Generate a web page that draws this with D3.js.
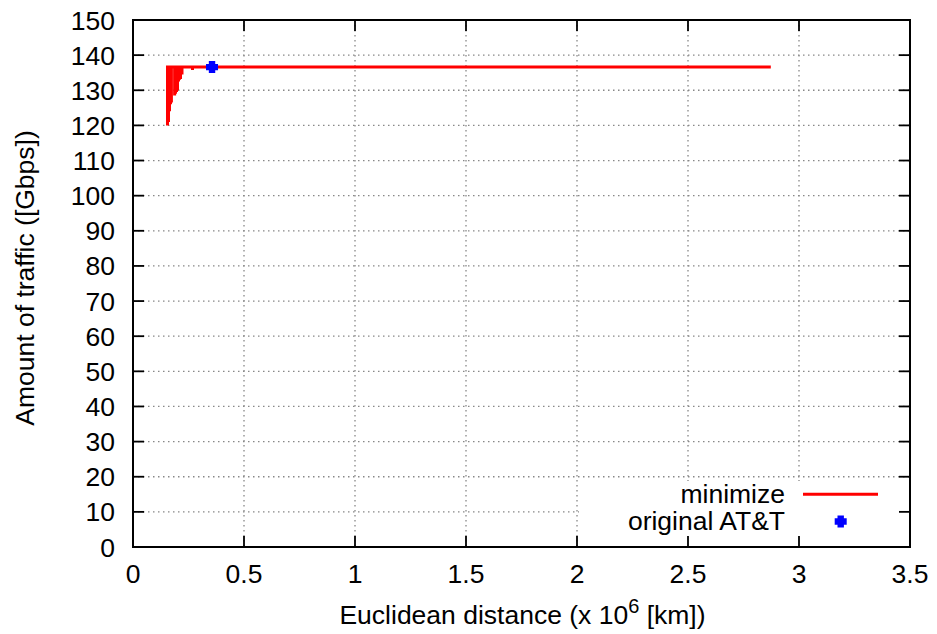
<!DOCTYPE html>
<html>
<head>
<meta charset="utf-8">
<script src="https://cdn.jsdelivr.net/npm/d3@7"></script>
<style>
  html, body { margin: 0; padding: 0; background: #fff; }
  svg { display: block; font-family: "Liberation Sans", Arial, Helvetica, sans-serif; }
</style>
</head>
<body>
<svg id="chart" width="937" height="634"></svg>
<script>
// Axis ticks
const xTicks = [0, 0.5, 1, 1.5, 2, 2.5, 3, 3.5];
const xTickLabels = ["0", "0.5", "1", "1.5", "2", "2.5", "3", "3.5"];
const yTicks = [0, 10, 20, 30, 40, 50, 60, 70, 80, 90, 100, 110, 120, 130, 140, 150];
const yTickLabels = yTicks.map(String);

// "minimize" series: a plateau with short downward drops near its start
const plateau = 136.6;
const spikeX   = [0.1554, 0.1599, 0.1644, 0.1689, 0.1730, 0.1875, 0.1914, 0.1959, 0.2005, 0.2050, 0.2095, 0.2140, 0.2207, 0.268];
const spikeLow = [120.0, 121.0, 124.0, 126.0, 126.5, 128.5, 129.0, 129.5, 130.0, 132.5, 133.0, 133.2, 134.5, 135.8];
const lineEndX = 2.873;

// "original AT&T" point
const attX = [0.356];
const attY = [136.6];

const legendLabels = ["minimize", "original AT&T"];

const plot = { left: 133, top: 20, right: 910, bottom: 547 };

const svg = d3.select("#chart");
const x = d3.scaleLinear().domain([0, 3.5]).range([plot.left, plot.right]);
const y = d3.scaleLinear().domain([0, 150]).range([plot.bottom, plot.top]);

// Dotted grid at interior ticks
const grid = svg.append("g").attr("stroke", "#888").attr("stroke-width", 1.3)
  .attr("stroke-dasharray", "1.5,3.5").attr("fill", "none");
grid.selectAll("line.gy").data(yTicks.filter(v => v > 0 && v < 150)).join("line")
  .attr("x1", plot.left).attr("x2", plot.right)
  .attr("y1", d => y(d)).attr("y2", d => y(d));
grid.selectAll("line.gx").data(xTicks.filter(v => v > 0 && v < 3.5)).join("line")
  .attr("y1", plot.top).attr("y2", plot.bottom)
  .attr("x1", d => x(d)).attr("x2", d => x(d));

// Key background masks the grid in the lower right corner
svg.append("rect")
  .attr("x", x(2) + 2).attr("y", 481)
  .attr("width", plot.right - x(2) - 2).attr("height", plot.bottom - 481)
  .attr("fill", "#fff");

// Build the minimize path from plateau and drops
const minPts = [];
spikeX.forEach((sx, i) => {
  minPts.push([sx, plateau], [sx, spikeLow[i]], [sx, plateau]);
});
minPts.push([lineEndX, plateau]);

svg.append("path")
  .datum(minPts)
  .attr("fill", "none")
  .attr("stroke", "#ff0000")
  .attr("stroke-width", 3)
  .attr("stroke-linejoin", "miter")
  .attr("d", d3.line().x(d => x(d[0])).y(d => y(d[1])));

// Filled plus marker
function plusPath(cx, cy, r, t) {
  return `M${cx - t},${cy - r}H${cx + t}V${cy - t}H${cx + r}V${cy + t}H${cx + t}V${cy + r}H${cx - t}V${cy + t}H${cx - r}V${cy - t}H${cx - t}Z`;
}
svg.append("g").selectAll("path").data(attX.map((v, i) => [v, attY[i]])).join("path")
  .attr("fill", "#0000ff")
  .attr("d", d => plusPath(x(d[0]), y(d[1]), 6, 3.2));

// Frame
svg.append("rect")
  .attr("x", plot.left).attr("y", plot.top)
  .attr("width", plot.right - plot.left).attr("height", plot.bottom - plot.top)
  .attr("fill", "none").attr("stroke", "#000").attr("stroke-width", 2);

// Inward ticks on all four sides
const tickLen = 11;
const ticks = svg.append("g").attr("stroke", "#000").attr("stroke-width", 1.8);
yTicks.forEach(v => {
  ticks.append("line").attr("x1", plot.left).attr("x2", plot.left + tickLen).attr("y1", y(v)).attr("y2", y(v));
  ticks.append("line").attr("x1", plot.right).attr("x2", plot.right - tickLen).attr("y1", y(v)).attr("y2", y(v));
});
xTicks.forEach(v => {
  ticks.append("line").attr("y1", plot.bottom).attr("y2", plot.bottom - tickLen).attr("x1", x(v)).attr("x2", x(v));
  ticks.append("line").attr("y1", plot.top).attr("y2", plot.top + tickLen).attr("x1", x(v)).attr("x2", x(v));
});

// Tick labels
const fs = 26.5;
svg.append("g").selectAll("text").data(yTicks).join("text")
  .attr("x", plot.left - 18).attr("y", d => y(d) + 9.5)
  .attr("text-anchor", "end").attr("font-size", fs).attr("fill", "#000")
  .text((d, i) => yTickLabels[i]);
svg.append("g").selectAll("text").data(xTicks).join("text")
  .attr("x", d => x(d)).attr("y", 583)
  .attr("text-anchor", "middle").attr("font-size", fs).attr("fill", "#000")
  .text((d, i) => xTickLabels[i]);

// Axis titles
const xt = svg.append("text")
  .attr("x", (plot.left + plot.right) / 2 + 1).attr("y", 624)
  .attr("text-anchor", "middle").attr("font-size", fs).attr("fill", "#000");
xt.append("tspan").text("Euclidean distance (x 10");
xt.append("tspan").attr("dy", -11).attr("font-size", 20).text("6");
xt.append("tspan").attr("dy", 11).text(" [km])");

svg.append("text")
  .attr("transform", "translate(34,278) rotate(-90)")
  .attr("text-anchor", "middle").attr("font-size", fs).attr("fill", "#000")
  .text("Amount of traffic ([Gbps])");

// Key
const key = svg.append("g").attr("font-size", fs).attr("fill", "#000");
key.append("text").attr("x", 785).attr("y", 503).attr("text-anchor", "end").text(legendLabels[0]);
key.append("text").attr("x", 785).attr("y", 530).attr("text-anchor", "end").text(legendLabels[1]);
svg.append("line").attr("x1", 803).attr("x2", 878).attr("y1", 494.3).attr("y2", 494.3)
  .attr("stroke", "#ff0000").attr("stroke-width", 3);
svg.append("path").attr("fill", "#0000ff").attr("d", plusPath(840.7, 521.5, 6, 3.2));
</script>
</body>
</html>
